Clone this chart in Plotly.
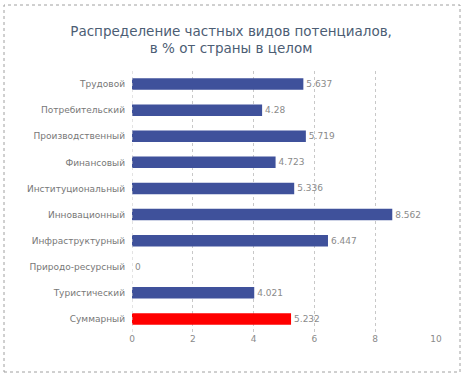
import plotly.graph_objects as go

categories = ["Трудовой", "Потребительский", "Производственный", "Финансовый",
              "Институциональный", "Инновационный", "Инфраструктурный",
              "Природо-ресурсный", "Туристический", "Суммарный"]
values = [5.637, 4.28, 5.719, 4.723, 5.336, 8.562, 6.447, 0, 4.021, 5.232]
labels = ["5.637", "4.28", "5.719", "4.723", "5.336", "8.562", "6.447", "0", "4.021", "5.232"]
colors = ["#3f519b"] * 9 + ["#ff0000"]

fig = go.Figure(go.Bar(
    x=values, y=categories, orientation="h",
    marker=dict(color=colors, line=dict(width=0)),
    text=labels, textposition="outside", cliponaxis=False,
    textfont=dict(size=9, color="#8a8a8a", family="DejaVu Sans"),
    width=0.44,
))

fig.update_layout(
    width=465, height=378,
    margin=dict(l=132, r=29, t=71, b=46),
    paper_bgcolor="white", plot_bgcolor="white",
    showlegend=False,
    title=dict(text="Распределение частных видов потенциалов,<br>в % от страны в целом",
               x=0.497, xanchor="center", y=0.905, yanchor="top",
               font=dict(size=13.5, color="#4c5d74", family="DejaVu Sans")),
    xaxis=dict(range=[0, 10], dtick=2, showgrid=True, gridcolor="#c8c8c8",
               griddash="dot", gridwidth=1, zeroline=False,
               tickfont=dict(size=9, color="#8a8a8a", family="DejaVu Sans"),
               showline=False, ticks="", automargin=False),
    yaxis=dict(autorange="reversed", showgrid=False, zeroline=False,
               showline=False, automargin=False,
               tickfont=dict(size=9, color="#777777", family="DejaVu Sans"),
               ticks="", ticklabelstandoff=6),
    shapes=[dict(type="rect", xref="paper", yref="paper",
                 x0=-128/304, x1=1 + 24/304, y0=-40/261, y1=1 + 66/261,
                 line=dict(color="#a0a0a0", width=1, dash="dot"))],
)
fig.add_shape(type="line", xref="x", yref="paper", x0=0, x1=0, y0=0, y1=1,
              line=dict(color="#c8c8c8", width=1, dash="dot"))

fig.write_html("out.html", config={"displayModeBar": False},
               post_script="document.body.style.margin='0';")
